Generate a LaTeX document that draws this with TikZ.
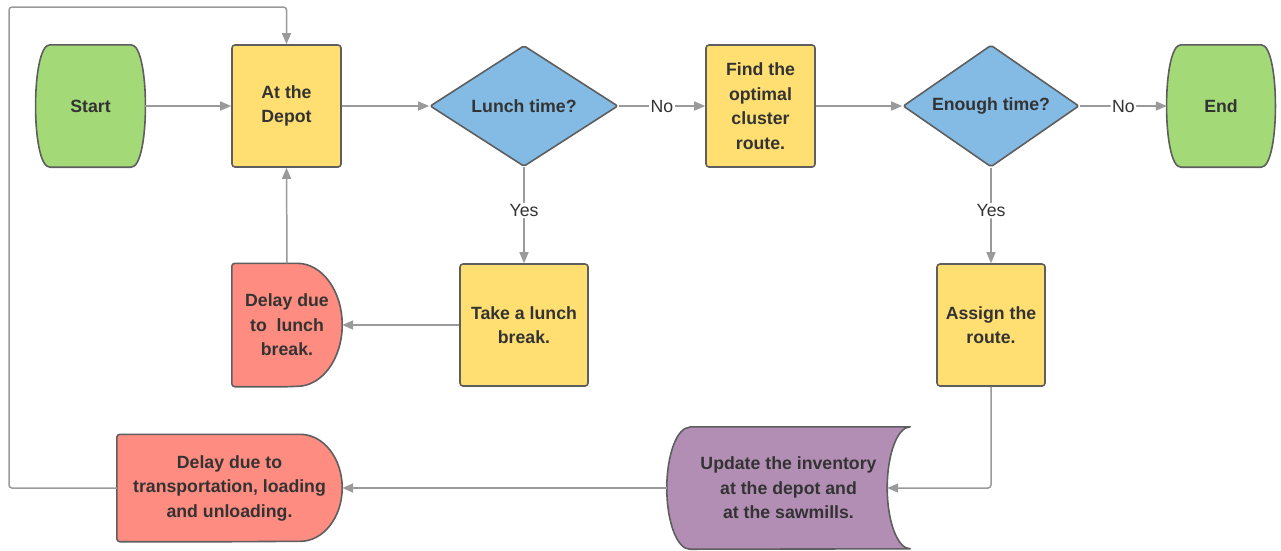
\documentclass[tikz,border=0pt]{standalone}
\usepackage{fontspec}
\setmainfont{Liberation Sans}
\usetikzlibrary{shapes.geometric, arrows.meta, calc, backgrounds}

\definecolor{termgreen}{HTML}{A3D977}
\definecolor{procyellow}{HTML}{FFDF71}
\definecolor{decblue}{HTML}{83BBE5}
\definecolor{delayred}{HTML}{FF8C80}
\definecolor{storepurple}{HTML}{B28EB5}
\definecolor{edgegray}{HTML}{5E5E5E}
\definecolor{linkgray}{HTML}{9A9A9A}
\definecolor{inkgray}{HTML}{333333}

% outline of a terminator (flat top and bottom, bulging sides)
\newcommand\terminatorshape[2]{%
  \draw[outline, fill=#2] ($(#1.north west)+(14,0)$) -- ($(#1.north east)+(-14,0)$)
    .. controls +(19,0) and +(19,0) .. ($(#1.south east)+(-14,0)$)
    -- ($(#1.south west)+(14,0)$)
    .. controls +(-19,0) and +(-19,0) .. ($(#1.north west)+(14,0)$) -- cycle;}

% outline of a delay block: flat left side, rounded right end
% #1 node, #2 fill, #3 x radius, #4 y radius (half height)
\newcommand\delayshape[4]{%
  \draw[outline, fill=#2] (#1.north) -- ($(#1.north east)+(-#3,0)$)
    arc[start angle=90, end angle=-90, x radius=#3, y radius=#4]
    -- (#1.south) [rounded corners=3pt] -- (#1.south west) -- (#1.north west) -- cycle;}

\begin{document}
\begin{tikzpicture}[x=1pt, y=1pt,
  every node/.style={font=\fontsize{17.7}{24.5}\selectfont\bfseries, text=inkgray,
    align=center, inner sep=0pt},
  outline/.style={draw=edgegray, line width=1.6pt, line join=round},
  box/.style={outline, rounded corners=3pt, fill=procyellow,
    minimum width=109pt, minimum height=122pt},
  decision/.style={diamond, outline, rounded corners=2pt, fill=decblue, shape aspect=1.5},
  ghost/.style={minimum width=#1},
  link/.style={draw=linkgray, line width=1.5pt, rounded corners=3pt,
    -{Triangle[length=11pt, width=9pt]}},
  answer/.style={fill=white, inner sep=1.5pt,
    font=\fontsize{17.7}{24.5}\selectfont\mdseries, text=inkgray}]

\useasboundingbox (0,0) rectangle (1281,-550);

% ---- nodes ----
\node[ghost=109pt, minimum height=122pt] (start) at (90.5,-106) {Start};
\node[box] (depot) at (286.5,-106) {At the\\Depot};
\node[decision, minimum width=188pt, minimum height=121pt] (lunch) at (524,-106) {Lunch time?};
\node[box] (find) at (760.5,-106) {Find the\\optimal\\cluster\\route.};
\node[decision, minimum width=176pt, minimum height=122pt] (enough) at (991,-106) {Enough time?};
\node[ghost=108pt, minimum height=122pt] (end) at (1221,-106) {End};

\node[box, minimum width=128pt] (take) at (524,-325) {Take a lunch\\break.};
\node[ghost=110pt, minimum height=123pt] (delaylunch) at (287,-325) {Delay due\\to~ lunch\\break.};
\node[box, minimum width=108pt] (assign) at (991,-325) {Assign the\\route.};

\node[ghost=243pt, minimum height=122pt] (update) at (788.5,-488) {Update the inventory\\at the depot and\\at the sawmills.};
\node[ghost=225pt, minimum height=107pt] (delaytrans) at (229.5,-488) {Delay due to\\transportation, loading\\and unloading.};

\coordinate (updatein) at ($(update.east)+(-23,0)$);
\coordinate (loopcorner) at (9,-7);

% ---- custom outlines behind the text ----
\begin{scope}[on background layer]
  \terminatorshape{start}{termgreen}
  \terminatorshape{end}{termgreen}
  \delayshape{delaylunch}{delayred}{45}{61.5}
  \delayshape{delaytrans}{delayred}{42}{53.5}
  \draw[outline, fill=storepurple]
    ($(update.north west)+(23,0)$) -- (update.north east)
    arc[start angle=90, end angle=270, x radius=23, y radius=61]
    -- ($(update.south west)+(23,0)$)
    arc[start angle=270, end angle=90, x radius=23, y radius=61] -- cycle;
\end{scope}

% ---- connectors ----
\draw[link] (start) -- (depot);
\draw[link] (depot) -- (lunch);
\draw[link] (lunch) -- node[answer] {No} (find);
\draw[link] (find) -- (enough);
\draw[link] (enough) -- node[answer] {No} (end.west);
\draw[link] (lunch.south) -- node[answer, pos=0.45] {Yes} (take.north);
\draw[link] (take.west) -- (delaylunch.east);
\draw[link] (delaylunch.north) -- (depot.south);
\draw[link] (enough.south) -- node[answer, pos=0.45] {Yes} (assign.north);
\draw[link] (assign.south) |- (updatein);
\draw[link] (update.west) -- (delaytrans.east);
\draw[link] (delaytrans.west) -| (loopcorner) -| (depot.north);

\end{tikzpicture}
\end{document}
